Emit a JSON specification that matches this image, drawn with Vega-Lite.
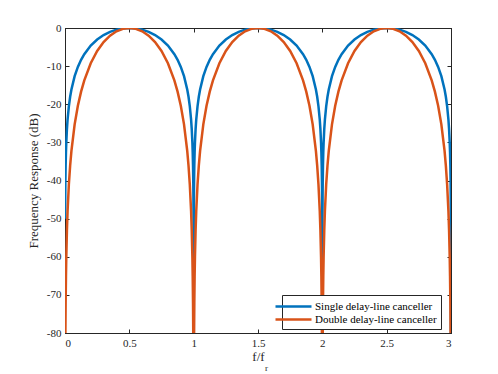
{
  "$schema": "https://vega.github.io/schema/vega-lite/v6.json",
  "width": 386,
  "height": 305,
  "autosize": "none",
  "padding": {"left": 65, "top": 28, "right": 47, "bottom": 41},
  "background": "white",
  "config": {
    "view": {"stroke": "#262626", "strokeWidth": 1},
    "font": "Liberation Serif",
    "axis": {
      "labelFont": "Liberation Serif",
      "titleFont": "Liberation Serif",
      "labelFontSize": 11,
      "titleFontSize": 13,
      "titleFontWeight": "normal",
      "labelColor": "#262626",
      "titleColor": "#262626",
      "domainColor": "#262626",
      "tickColor": "#262626",
      "tickSize": -4,
      "grid": false
    }
  },
  "data": {
    "values": [
      {"f":0.001,"s":-50.06,"d":-100.12},{"f":0.002,"s":-44.04,"d":-88.07},{"f":0.003,"s":-40.52,"d":-81.03},{"f":0.005,"s":-36.08,"d":-72.16},{"f":0.0075,"s":-32.56,"d":-65.11},{"f":0.01,"s":-30.06,"d":-60.12},{"f":0.015,"s":-26.54,"d":-53.08},{"f":0.02,"s":-24.04,"d":-48.08},{"f":0.03,"s":-20.53,"d":-41.06},{"f":0.04,"s":-18.04,"d":-36.08},{"f":0.05,"s":-16.11,"d":-32.23},{"f":0.075,"s":-12.64,"d":-25.27},{"f":0.1,"s":-10.2,"d":-20.4},{"f":0.125,"s":-8.34,"d":-16.69},{"f":0.15,"s":-6.86,"d":-13.72},{"f":0.2,"s":-4.62,"d":-9.23},{"f":0.25,"s":-3.01,"d":-6.02},{"f":0.3,"s":-1.84,"d":-3.68},{"f":0.35,"s":-1.0,"d":-2.0},{"f":0.4,"s":-0.44,"d":-0.87},{"f":0.45,"s":-0.11,"d":-0.22},{"f":0.5,"s":0,"d":0},
      {"f":0.55,"s":-0.11,"d":-0.22},{"f":0.6,"s":-0.44,"d":-0.87},{"f":0.65,"s":-1.0,"d":-2.0},{"f":0.7,"s":-1.84,"d":-3.68},{"f":0.75,"s":-3.01,"d":-6.02},{"f":0.8,"s":-4.62,"d":-9.23},{"f":0.85,"s":-6.86,"d":-13.72},{"f":0.875,"s":-8.34,"d":-16.69},{"f":0.9,"s":-10.2,"d":-20.4},{"f":0.925,"s":-12.64,"d":-25.27},{"f":0.95,"s":-16.11,"d":-32.23},{"f":0.96,"s":-18.04,"d":-36.08},{"f":0.97,"s":-20.53,"d":-41.06},{"f":0.98,"s":-24.04,"d":-48.08},{"f":0.985,"s":-26.54,"d":-53.08},{"f":0.99,"s":-30.06,"d":-60.12},{"f":0.9925,"s":-32.56,"d":-65.11},{"f":0.995,"s":-36.08,"d":-72.16},{"f":0.997,"s":-40.52,"d":-81.03},{"f":0.998,"s":-44.04,"d":-88.07},{"f":0.999,"s":-50.06,"d":-100.12},{"f":1.0,"s":-300,"d":-600},
      {"f":1.001,"s":-50.06,"d":-100.12},{"f":1.002,"s":-44.04,"d":-88.07},{"f":1.003,"s":-40.52,"d":-81.03},{"f":1.005,"s":-36.08,"d":-72.16},{"f":1.0075,"s":-32.56,"d":-65.11},{"f":1.01,"s":-30.06,"d":-60.12},{"f":1.015,"s":-26.54,"d":-53.08},{"f":1.02,"s":-24.04,"d":-48.08},{"f":1.03,"s":-20.53,"d":-41.06},{"f":1.04,"s":-18.04,"d":-36.08},{"f":1.05,"s":-16.11,"d":-32.23},{"f":1.075,"s":-12.64,"d":-25.27},{"f":1.1,"s":-10.2,"d":-20.4},{"f":1.125,"s":-8.34,"d":-16.69},{"f":1.15,"s":-6.86,"d":-13.72},{"f":1.2,"s":-4.62,"d":-9.23},{"f":1.25,"s":-3.01,"d":-6.02},{"f":1.3,"s":-1.84,"d":-3.68},{"f":1.35,"s":-1.0,"d":-2.0},{"f":1.4,"s":-0.44,"d":-0.87},{"f":1.45,"s":-0.11,"d":-0.22},{"f":1.5,"s":0,"d":0},
      {"f":1.55,"s":-0.11,"d":-0.22},{"f":1.6,"s":-0.44,"d":-0.87},{"f":1.65,"s":-1.0,"d":-2.0},{"f":1.7,"s":-1.84,"d":-3.68},{"f":1.75,"s":-3.01,"d":-6.02},{"f":1.8,"s":-4.62,"d":-9.23},{"f":1.85,"s":-6.86,"d":-13.72},{"f":1.875,"s":-8.34,"d":-16.69},{"f":1.9,"s":-10.2,"d":-20.4},{"f":1.925,"s":-12.64,"d":-25.27},{"f":1.95,"s":-16.11,"d":-32.23},{"f":1.96,"s":-18.04,"d":-36.08},{"f":1.97,"s":-20.53,"d":-41.06},{"f":1.98,"s":-24.04,"d":-48.08},{"f":1.985,"s":-26.54,"d":-53.08},{"f":1.99,"s":-30.06,"d":-60.12},{"f":1.9925,"s":-32.56,"d":-65.11},{"f":1.995,"s":-36.08,"d":-72.16},{"f":1.997,"s":-40.52,"d":-81.03},{"f":1.998,"s":-44.04,"d":-88.07},{"f":1.999,"s":-50.06,"d":-100.12},{"f":2.0,"s":-300,"d":-600},
      {"f":2.001,"s":-50.06,"d":-100.12},{"f":2.002,"s":-44.04,"d":-88.07},{"f":2.003,"s":-40.52,"d":-81.03},{"f":2.005,"s":-36.08,"d":-72.16},{"f":2.0075,"s":-32.56,"d":-65.11},{"f":2.01,"s":-30.06,"d":-60.12},{"f":2.015,"s":-26.54,"d":-53.08},{"f":2.02,"s":-24.04,"d":-48.08},{"f":2.03,"s":-20.53,"d":-41.06},{"f":2.04,"s":-18.04,"d":-36.08},{"f":2.05,"s":-16.11,"d":-32.23},{"f":2.075,"s":-12.64,"d":-25.27},{"f":2.1,"s":-10.2,"d":-20.4},{"f":2.125,"s":-8.34,"d":-16.69},{"f":2.15,"s":-6.86,"d":-13.72},{"f":2.2,"s":-4.62,"d":-9.23},{"f":2.25,"s":-3.01,"d":-6.02},{"f":2.3,"s":-1.84,"d":-3.68},{"f":2.35,"s":-1.0,"d":-2.0},{"f":2.4,"s":-0.44,"d":-0.87},{"f":2.45,"s":-0.11,"d":-0.22},{"f":2.5,"s":0,"d":0},
      {"f":2.55,"s":-0.11,"d":-0.22},{"f":2.6,"s":-0.44,"d":-0.87},{"f":2.65,"s":-1.0,"d":-2.0},{"f":2.7,"s":-1.84,"d":-3.68},{"f":2.75,"s":-3.01,"d":-6.02},{"f":2.8,"s":-4.62,"d":-9.23},{"f":2.85,"s":-6.86,"d":-13.72},{"f":2.875,"s":-8.34,"d":-16.69},{"f":2.9,"s":-10.2,"d":-20.4},{"f":2.925,"s":-12.64,"d":-25.27},{"f":2.95,"s":-16.11,"d":-32.23},{"f":2.96,"s":-18.04,"d":-36.08},{"f":2.97,"s":-20.53,"d":-41.06},{"f":2.98,"s":-24.04,"d":-48.08},{"f":2.985,"s":-26.54,"d":-53.08},{"f":2.99,"s":-30.06,"d":-60.12},{"f":2.9925,"s":-32.56,"d":-65.11},{"f":2.995,"s":-36.08,"d":-72.16},{"f":2.997,"s":-40.52,"d":-81.03},{"f":2.998,"s":-44.04,"d":-88.07},{"f":2.999,"s":-50.06,"d":-100.12},{"f":3.0,"s":-300,"d":-600}
    ]
  },
  "transform": [{"fold": ["s", "d"], "as": ["series", "dB"]}],
  "layer": [
    {
      "mark": {"type": "line", "clip": true, "strokeWidth": 2.5, "interpolate": "linear"},
      "encoding": {
        "x": {"field": "f", "type": "quantitative", "scale": {"domain": [0, 3], "nice": false},
              "axis": {"title": "f/f", "values": [0, 0.5, 1, 1.5, 2, 2.5, 3], "labelExpr": "'' + datum.value", "labelPadding": 8, "titlePadding": 2}},
        "y": {"field": "dB", "type": "quantitative", "scale": {"domain": [-80, 0], "nice": false},
              "axis": {"title": "Frequency Response (dB)", "values": [-80, -70, -60, -50, -40, -30, -20, -10, 0], "labelExpr": "'' + datum.value", "labelPadding": 8, "titlePadding": 6}},
        "color": {"field": "series", "type": "nominal",
          "scale": {"domain": ["s", "d"], "range": ["#0072BD", "#D95319"]},
          "legend": {
            "orient": "none", "legendX": 217, "legendY": 267, "title": null,
            "labelExpr": "datum.value == 's' ? 'Single delay-line canceller' : 'Double delay-line canceller'",
            "fillColor": "white", "strokeColor": "#262626", "padding": 4,
            "labelFont": "Liberation Serif", "labelFontSize": 11, "labelColor": "#000000",
            "symbolType": "M-3,0L3,0", "symbolSize": 144, "symbolStrokeWidth": 2.5,
            "rowPadding": 0, "labelOffset": 14
          }
        }
      }
    },
    {
      "mark": {"type": "line", "opacity": 0, "clip": true},
      "encoding": {
        "x": {"field": "f", "type": "quantitative", "scale": {"domain": [0, 3], "nice": false},
              "axis": {"orient": "top", "title": "r", "titleFontSize": 9, "titleX": 201, "titleY": 339, "titleBaseline": "middle", "titleAlign": "center", "labels": false, "values": [0, 0.5, 1, 1.5, 2, 2.5, 3]}},
        "y": {"field": "dB", "type": "quantitative", "scale": {"domain": [-80, 0], "nice": false},
              "axis": {"orient": "right", "title": null, "labels": false, "values": [-80, -70, -60, -50, -40, -30, -20, -10, 0]}}
      }
    }
  ],
  "resolve": {"axis": {"x": "independent", "y": "independent"}}
}
